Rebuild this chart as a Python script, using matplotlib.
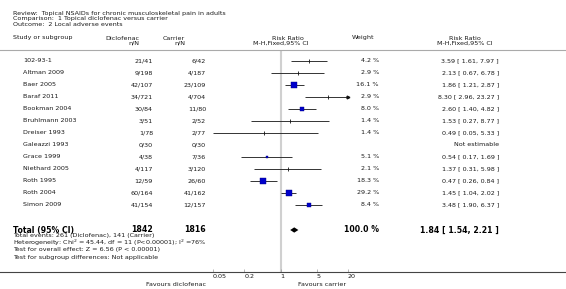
import numpy as np
import matplotlib
matplotlib.use("Agg")
import matplotlib.pyplot as plt
from matplotlib.transforms import blended_transform_factory

# data
studies = ['102-93-1', 'Altman 2009', 'Baer 2005', 'Baraf 2011', 'Bookman 2004',
           'Bruhlmann 2003', 'Dreiser 1993', 'Galeazzi 1993', 'Grace 1999',
           'Niethard 2005', 'Roth 1995', 'Roth 2004', 'Simon 2009']
dic_n = [21, 9, 42, 34, 30, 3, 1, 0, 4, 4, 12, 60, 41]
dic_N = [41, 198, 107, 721, 84, 51, 78, 30, 38, 117, 59, 164, 154]
car_n = [6, 4, 23, 4, 11, 2, 2, 0, 7, 3, 26, 41, 12]
car_N = [42, 187, 109, 704, 80, 52, 77, 30, 36, 120, 60, 162, 157]
weight = [4.2, 2.9, 16.1, 2.9, 8.0, 1.4, 1.4, np.nan, 5.1, 2.1, 18.3, 29.2, 8.4]
rr = [3.59, 2.13, 1.86, 8.30, 2.60, 1.53, 0.49, np.nan, 0.54, 1.37, 0.47, 1.45, 3.48]
lo = [1.61, 0.67, 1.21, 2.96, 1.40, 0.27, 0.05, np.nan, 0.17, 0.31, 0.26, 1.04, 1.90]
hi = [7.97, 6.78, 2.87, 23.27, 4.82, 8.77, 5.33, np.nan, 1.69, 5.98, 0.84, 2.02, 6.37]

total_dic, total_car = 1842, 1816
total_rr, total_lo, total_hi = 1.84, 1.54, 2.21
ticks = [0.05, 0.2, 1, 5, 20]
tick_labels = ['0.05', '0.2', '1', '5', '20']

W, H = 566, 289
fig = plt.figure(figsize=(W / 100, H / 100), dpi=100)
fig.patch.set_facecolor('white')

def fx(px):
    return px / W

def fy(py):
    return 1 - py / H

txt = '#1a1a1a'
fs = 4.6

# forest axes: x 213..348 px, y 50..272 px
ax = fig.add_axes([fx(213), fy(272), fx(348) - fx(213), fy(50) - fy(272)])
ax.set_xscale('log')
ax.set_xlim(0.05, 20)
row0, step = 61, 12
ax.set_ylim((272 - row0) / step, (50 - row0) / step)
for s in ax.spines.values():
    s.set_visible(False)
ax.set_yticks([])
ax.set_xticks(ticks)
ax.set_xticklabels([])
ax.minorticks_off()
ax.tick_params(axis='x', direction='in', length=2, width=0.5, color='#999999')
ax.patch.set_alpha(0)

ax.axvline(1, color='#d0d0d0', lw=1.5, zorder=0)

xmax = ax.get_xlim()[1]
for i in range(len(studies)):
    if np.isnan(rr[i]):
        continue
    right = min(hi[i], xmax)
    ax.plot([lo[i], right], [i, i], color='#333333', lw=0.7, solid_capstyle='butt', clip_on=False)
    if hi[i] > xmax:
        ax.plot([xmax], [i], marker='>', ms=2, color='#111111', clip_on=False)
    if weight[i] >= 5:
        side = 1.25 * np.sqrt(weight[i]) * 0.72  # points
        ax.plot([rr[i]], [i], marker='s', ms=side, color='#0000cc', mec='#000080',
                mew=0.3, zorder=3)
    else:
        ax.plot([rr[i]], [i], marker='|', ms=2.5, mew=0.6, color='#111111', zorder=3)

# total diamond
ty = (230 - row0) / step
hd = 0.22
ax.fill([total_lo, total_rr, total_hi, total_rr], [ty, ty - hd, ty, ty + hd],
        color='black', lw=0)

# tick labels under the axis
tick_tr = blended_transform_factory(ax.transData, fig.transFigure)
for t, lab in zip(ticks, tick_labels):
    ax.text(t, fy(277), lab, transform=tick_tr, fontsize=fs, color=txt, ha='left', va='center')

# bottom axis line and header line across the full width
fig.add_artist(plt.Line2D([0, 1], [fy(272), fy(272)], color='#444444', lw=0.8))
fig.add_artist(plt.Line2D([0, 1], [fy(50), fy(50)], color='#aaaaaa', lw=0.8))

# title lines
fig.text(fx(13), fy(13), 'Review:  Topical NSAIDs for chronic musculoskeletal pain in adults',
         fontsize=fs, color=txt, va='center')
fig.text(fx(13), fy(18.5), 'Comparison:  1 Topical diclofenac versus carrier',
         fontsize=fs, color=txt, va='center')
fig.text(fx(13), fy(24), 'Outcome:  2 Local adverse events',
         fontsize=fs, color=txt, va='center')

# column headers
fig.text(fx(13), fy(38), 'Study or subgroup', fontsize=fs, color=txt, va='center')
fig.text(fx(139), fy(38), 'Diclofenac', fontsize=fs, color=txt, va='center', ha='right')
fig.text(fx(139), fy(43), 'n/N', fontsize=fs, color=txt, va='center', ha='right')
fig.text(fx(185), fy(38), 'Carrier', fontsize=fs, color=txt, va='center', ha='right')
fig.text(fx(185), fy(43), 'n/N', fontsize=fs, color=txt, va='center', ha='right')
fig.text(fx(288), fy(38), 'Risk Ratio', fontsize=fs, color=txt, va='center', ha='center')
fig.text(fx(281), fy(43), 'M-H,Fixed,95% CI', fontsize=fs, color=txt, va='center', ha='center')
fig.text(fx(352), fy(38), 'Weight', fontsize=fs, color=txt, va='center')
fig.text(fx(465), fy(38), 'Risk Ratio', fontsize=fs, color=txt, va='center', ha='center')
fig.text(fx(465), fy(43), 'M-H,Fixed,95% CI', fontsize=fs, color=txt, va='center', ha='center')

# study rows
tr = blended_transform_factory(fig.transFigure, ax.transData)
for i, name in enumerate(studies):
    ax.text(fx(23), i, name, transform=tr, fontsize=fs, color=txt, va='center')
    ax.text(fx(153), i, '%d/%d' % (dic_n[i], dic_N[i]), transform=tr, fontsize=fs,
            color=txt, va='center', ha='right')
    ax.text(fx(206), i, '%d/%d' % (car_n[i], car_N[i]), transform=tr, fontsize=fs,
            color=txt, va='center', ha='right')
    if np.isnan(rr[i]):
        ax.text(fx(499), i, 'Not estimable', transform=tr, fontsize=fs, color=txt,
                va='center', ha='right')
    else:
        ax.text(fx(379), i, '%.1f %%' % weight[i], transform=tr, fontsize=fs, color=txt,
                va='center', ha='right')
        ax.text(fx(499), i, '%.2f [ %.2f, %.2f ]' % (rr[i], lo[i], hi[i]), transform=tr,
                fontsize=fs, color=txt, va='center', ha='right')

# total row
fb = 5.6
ax.text(fx(13), ty, 'Total (95% CI)', transform=tr, fontsize=fb, weight='bold', color='black', va='center')
ax.text(fx(153), ty, str(total_dic), transform=tr, fontsize=fb, weight='bold', color='black',
        va='center', ha='right')
ax.text(fx(206), ty, str(total_car), transform=tr, fontsize=fb, weight='bold', color='black',
        va='center', ha='right')
ax.text(fx(379), ty, '100.0 %', transform=tr, fontsize=fb, weight='bold', color='black',
        va='center', ha='right')
ax.text(fx(499), ty, '%.2f [ %.2f, %.2f ]' % (total_rr, total_lo, total_hi), transform=tr,
        fontsize=fb, weight='bold', color='black', va='center', ha='right')

notes = ['Total events: 261 (Diclofenac), 141 (Carrier)',
         'Heterogeneity: Chi$^2$ = 45.44, df = 11 (P<0.00001); I$^2$ =76%',
         'Test for overall effect: Z = 6.56 (P < 0.00001)',
         'Test for subgroup differences: Not applicable']
for note, py in zip(notes, [236, 243, 250, 257]):
    fig.text(fx(13), fy(py), note, fontsize=fs, color=txt, va='center')

fig.text(fx(206), fy(284), 'Favours diclofenac', fontsize=fs, color=txt, va='center', ha='right')
fig.text(fx(298), fy(284), 'Favours carrier', fontsize=fs, color=txt, va='center', ha='left')

fig.savefig('out.png', dpi=100)
